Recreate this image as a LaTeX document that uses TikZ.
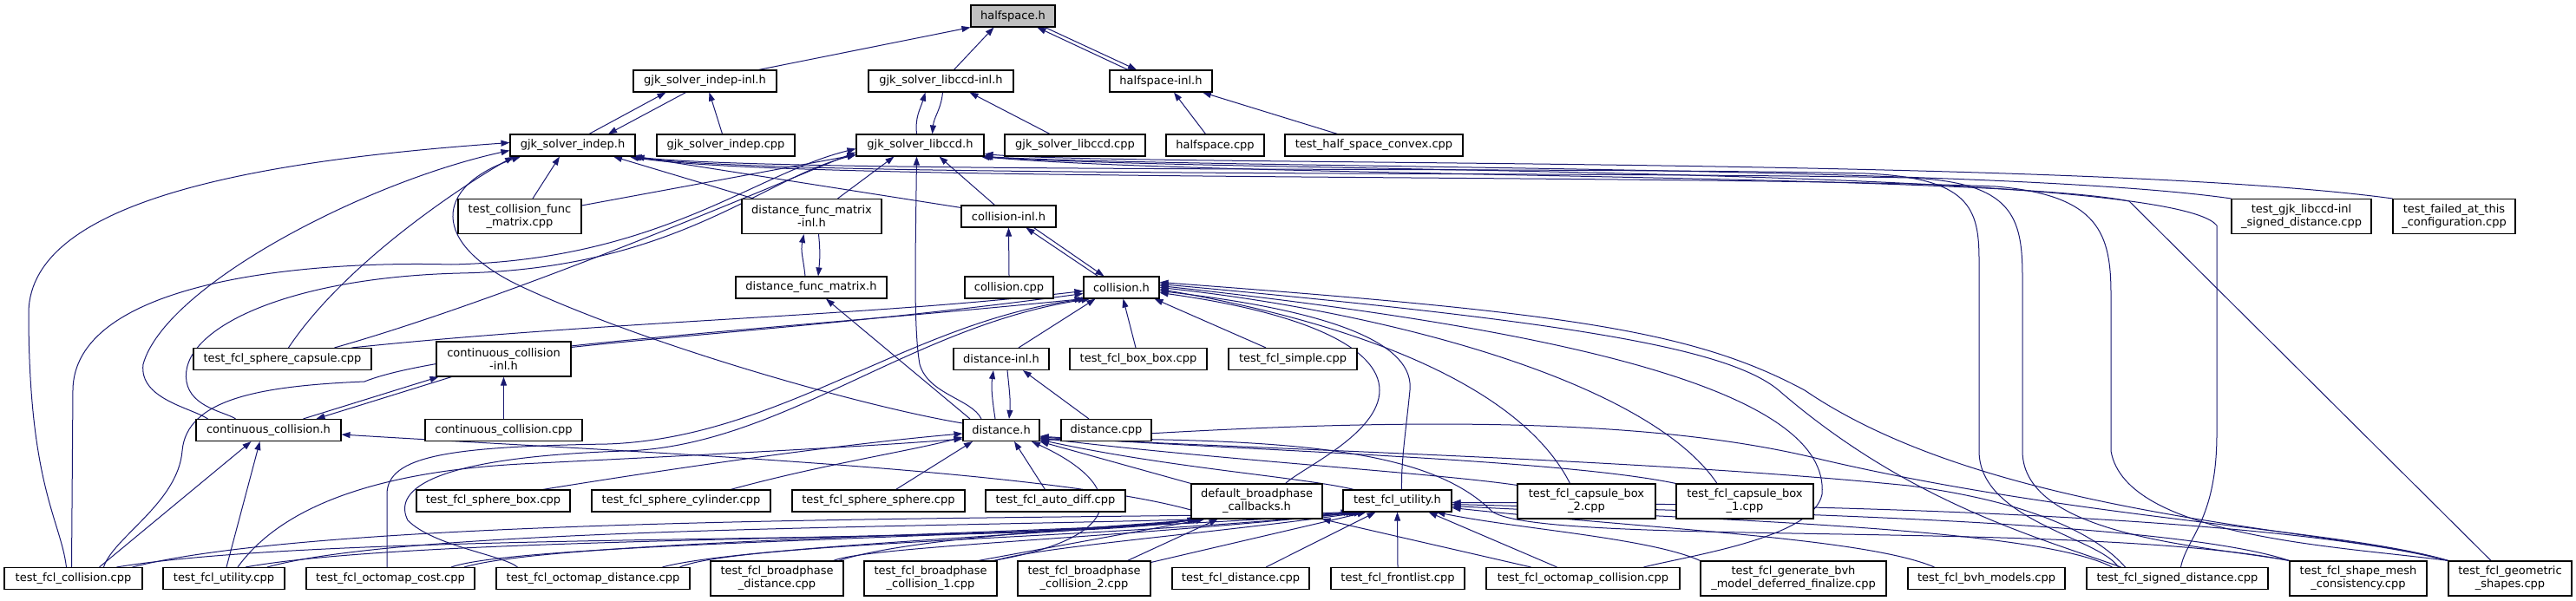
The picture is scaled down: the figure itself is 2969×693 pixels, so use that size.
\documentclass[tikz,border=0pt]{standalone}
\usepackage{fontspec}
\setmainfont{DejaVu Sans}
\usetikzlibrary{arrows.meta}
\definecolor{edgeblue}{HTML}{191970}
\definecolor{hlgray}{HTML}{BFBFBF}
\pgfdeclarelayer{edges}
\pgfsetlayers{edges,main}
\tikzset{
  file/.style={draw=black, line width=1.1pt, fill=white, minimum height=25, inner sep=0pt,
    align=center, font=\fontsize{13}{15}\selectfont},
  file2/.style={file, minimum height=40},
  hl/.style={file, fill=hlgray},
  inc/.style={draw=edgeblue, line width=1pt, {Triangle[length=10pt,width=7pt]}-}
}

\begin{document}
\begin{tikzpicture}[x=1pt, y=-1pt]
\useasboundingbox (0,0) rectangle (2969,693);
% files, row by row
\node[hl, minimum width=97] (hs) at (1167.5,18.5) {halfspace.h};
\node[file, minimum width=165] (gii) at (812.5,93.5) {gjk\_solver\_indep-inl.h};
\node[file, minimum width=167] (gli) at (1084.5,93.5) {gjk\_solver\_libccd-inl.h};
\node[file, minimum width=118] (hsi) at (1338,93.5) {halfspace-inl.h};
\node[file, minimum width=144] (gi) at (660,167.5) {gjk\_solver\_indep.h};
\node[file, minimum width=159] (gicpp) at (836.5,167.5) {gjk\_solver\_indep.cpp};
\node[file, minimum width=147] (gl) at (1060.5,167.5) {gjk\_solver\_libccd.h};
\node[file, minimum width=162] (glcpp) at (1239,167.5) {gjk\_solver\_libccd.cpp};
\node[file, minimum width=113] (hscpp) at (1400.5,167.5) {halfspace.cpp};
\node[file, minimum width=205] (thsc) at (1583.5,167.5) {test\_half\_space\_convex.cpp};
\node[file2, minimum width=142] (tcfm) at (599,249.5) {test\_collision\_func\\\_matrix.cpp};
\node[file2, minimum width=161] (dfmi) at (935.5,249.5) {distance\_func\_matrix\\-inl.h};
\node[file, minimum width=109] (cinl) at (1162.5,249.5) {collision-inl.h};
\node[file2, minimum width=161] (tgjk) at (2652.5,249.5) {test\_gjk\_libccd-inl\\\_signed\_distance.cpp};
\node[file2, minimum width=141] (tfail) at (2828.5,249.5) {test\_failed\_at\_this\\\_configuration.cpp};
\node[file, minimum width=174] (dfm) at (935,331.5) {distance\_func\_matrix.h};
\node[file, minimum width=102] (ccpp) at (1163,331.5) {collision.cpp};
\node[file, minimum width=87] (col) at (1292.5,331.5) {collision.h};
\node[file, minimum width=205] (tsc) at (325.5,414) {test\_fcl\_sphere\_capsule.cpp};
\node[file2, minimum width=155] (cci) at (580.5,414) {continuous\_collision\\-inl.h};
\node[file, minimum width=110] (dinl) at (1154,414) {distance-inl.h};
\node[file, minimum width=158] (tbb) at (1312,414) {test\_fcl\_box\_box.cpp};
\node[file, minimum width=148] (tsimple) at (1490,414) {test\_fcl\_simple.cpp};
\node[file, minimum width=167] (cc) at (309.5,496) {continuous\_collision.h};
\node[file, minimum width=181] (cccpp) at (580.5,496) {continuous\_collision.cpp};
\node[file, minimum width=88] (dist) at (1154,496) {distance.h};
\node[file, minimum width=104] (dcpp) at (1275,496) {distance.cpp};
\node[file, minimum width=177] (tsbox) at (568.5,577.5) {test\_fcl\_sphere\_box.cpp};
\node[file, minimum width=206] (tscyl) at (785,577.5) {test\_fcl\_sphere\_cylinder.cpp};
\node[file, minimum width=199] (tssph) at (1012.5,577.5) {test\_fcl\_sphere\_sphere.cpp};
\node[file, minimum width=161] (tad) at (1216.5,577.5) {test\_fcl\_auto\_diff.cpp};
\node[file2, minimum width=151] (dbc) at (1448.5,578) {default\_broadphase\\\_callbacks.h};
\node[file, minimum width=125] (tuh) at (1610.5,577.5) {test\_fcl\_utility.h};
\node[file2, minimum width=159] (tcb2) at (1828.5,578) {test\_fcl\_capsule\_box\\\_2.cpp};
\node[file2, minimum width=158] (tcb1) at (2011,578) {test\_fcl\_capsule\_box\\\_1.cpp};
\node[file, minimum width=159] (tcol) at (84.5,667) {test\_fcl\_collision.cpp};
\node[file, minimum width=140] (tucpp) at (258,667) {test\_fcl\_utility.cpp};
\node[file, minimum width=194] (toc) at (450,667) {test\_fcl\_octomap\_cost.cpp};
\node[file, minimum width=223] (tod) at (683.5,667) {test\_fcl\_octomap\_distance.cpp};
\node[file2, minimum width=153] (tbd) at (895.5,667) {test\_fcl\_broadphase\\\_distance.cpp};
\node[file2, minimum width=153] (tbc1) at (1072.5,667) {test\_fcl\_broadphase\\\_collision\_1.cpp};
\node[file2, minimum width=153] (tbc2) at (1249.5,667) {test\_fcl\_broadphase\\\_collision\_2.cpp};
\node[file, minimum width=158] (tdist) at (1430,667) {test\_fcl\_distance.cpp};
\node[file, minimum width=154] (tfront) at (1611,667) {test\_fcl\_frontlist.cpp};
\node[file, minimum width=223] (tocol) at (1824.5,667) {test\_fcl\_octomap\_collision.cpp};
\node[file2, minimum width=214] (tgen) at (2067,667) {test\_fcl\_generate\_bvh\\\_model\_deferred\_finalize.cpp};
\node[file, minimum width=181] (tbvh) at (2289.5,667) {test\_fcl\_bvh\_models.cpp};
\node[file, minimum width=209] (tsd) at (2509.5,667) {test\_fcl\_signed\_distance.cpp};
\node[file2, minimum width=158] (tsmc) at (2718,667) {test\_fcl\_shape\_mesh\\\_consistency.cpp};
\node[file2, minimum width=142] (tgs) at (2893,667) {test\_fcl\_geometric\\\_shapes.cpp};

\begin{pgfonlayer}{edges}
% halfspace.h and its inline files
\draw[inc] (hs.south west) -- ([xshift=62]gii.north);
\draw[inc] ([xshift=-22]hs.south) -- ([xshift=15]gli.north);
\draw[inc] ([xshift=28]hs.south) -- ([xshift=-38]hsi.north);
\draw[inc] ([xshift=-28]hsi.north) -- ([xshift=37]hs.south);
\draw[inc] ([xshift=-45]gii.south) -- ([xshift=19]gi.north);
\draw[inc] ([xshift=41]gi.north) -- ([xshift=-22]gii.south);
\draw[inc] ([xshift=5]gii.south) -- ([xshift=-4]gicpp.north);
\draw[inc] ([xshift=-18]gli.south) .. controls +(-6,20) and +(-2,-20) .. ([xshift=-4]gl.north);
\draw[inc] ([xshift=14]gl.north) .. controls +(2,-20) and +(-2,20) .. ([xshift=2]gli.south);
\draw[inc] ([xshift=33]gli.south) -- ([xshift=-29]glcpp.north);
\draw[inc] ([xshift=15]hsi.south) -- ([xshift=-11]hscpp.north);
\draw[inc] ([xshift=48]hsi.south) -- ([xshift=-42]thsc.north);

% gjk_solver_indep.h
\draw[inc] ([xshift=-15]gi.south) -- ([xshift=15]tcfm.north);
\draw[inc] ([xshift=47]gi.south) -- ([xshift=-67]dfmi.north);
\draw[inc] (gi.south east) -- ([yshift=-3]cinl.north west);
\draw[inc] ([yshift=3]gi.west) .. controls (300,185) and (35,230) .. (33,360)
  .. controls (33,560) and (70,600) .. ([xshift=-8]tcol.north);
\draw[inc] ([yshift=-6]gi.west) .. controls (420,210) and (190,330) .. (165,420)
  .. controls (160,460) and (220,470) .. ([xshift=-70]cc.north);
\draw[inc] ([xshift=-68]gi.south) .. controls (540,210) and (400,300) .. ([xshift=7]tsc.north);
\draw[inc] ([xshift=-60]gi.south) .. controls (500,215) and (495,280) .. (600,330)
  .. controls (750,400) and (1000,470) .. ([yshift=8]dist.west);
\draw[inc] ([xshift=-3]gi.south east) .. controls (900,200) and (1800,192) .. (2150,200)
  .. controls (2270,205) and (2281,240) .. (2281,300) -- (2281,520)
  .. controls (2281,600) and (2420,620) .. ([xshift=-68]tsd.north);
\draw[inc] ([xshift=-5]gi.south east) .. controls (900,205) and (1800,197) .. (2200,205)
  .. controls (2320,210) and (2331,250) .. (2331,320) -- (2331,520)
  .. controls (2331,620) and (2550,630) .. (tsmc.north west);
\draw[inc] ([xshift=-7]gi.south east) .. controls (900,210) and (1900,200) .. (2300,215)
  .. controls (2420,225) and (2433,270) .. (2433,340) -- (2433,520)
  .. controls (2450,620) and (2700,630) .. (tgs.north west);

% gjk_solver_libccd.h
\draw[inc] ([yshift=2]gl.south west) -- ([yshift=-8]tcfm.north east);
\draw[inc] ([xshift=-30]gl.south) -- ([xshift=30]dfmi.north);
\draw[inc] ([xshift=22]gl.south) -- ([xshift=-16]cinl.north);
\draw[inc] ([xshift=-4]gl.south) .. controls (1055,300) and (1053,380) .. (1060,420)
  .. controls (1070,455) and (1120,460) .. ([xshift=-23]dist.north);
\draw[inc] ([yshift=-8]gl.west) .. controls (900,210) and (600,340) .. ([xshift=60]tsc.north);
\draw[inc] ([yshift=-4]gl.west) .. controls (870,200) and (760,300) .. (520,305)
  .. controls (330,300) and (85,330) .. (84,450) -- ([xshift=-2]tcol.north);
\draw[inc] ([yshift=-11]gl.west) .. controls (880,205) and (780,310) .. (530,315)
  .. controls (330,320) and (205,380) .. (215,440)
  .. controls (220,470) and (260,475) .. ([xshift=-38]cc.north);
\draw[inc] (gl.south east) .. controls (1400,195) and (2300,190) .. (tgjk.north west);
\draw[inc] ([yshift=3]gl.south east) .. controls (1300,192) and (2400,180) .. (tfail.north west);
\draw[inc] ([xshift=-2]gl.south east) .. controls (1400,200) and (2500,190) .. (2555,260)
  -- (2555,500) .. controls (2555,600) and (2520,620) .. ([xshift=4]tsd.north);
\draw[inc] ([xshift=-4]gl.south east) .. controls (1400,205) and (2300,200) .. (2454,232)
  -- ([xshift=-22]tgs.north);

% inline pairs and their sources
\draw[inc] ([xshift=-9]dfmi.south) .. controls +(-4,20) and +(-2,-20) .. ([xshift=-7]dfm.north);
\draw[inc] ([xshift=8]dfm.north) .. controls +(2,-20) and +(2,20) .. ([xshift=8]dfmi.south);
\draw[inc] ([xshift=17]dfm.south) -- ([xshift=-36]dist.north);
\draw[inc] ([xshift=20]cinl.south) -- ([xshift=-27]col.north);
\draw[inc] ([xshift=-20]col.north) -- ([xshift=29]cinl.south);
\draw[inc] (cinl.south) -- (ccpp.north);
\draw[inc] ([xshift=-75]cci.south) -- ([xshift=40]cc.north);
\draw[inc] ([xshift=55]cc.north) -- ([xshift=-60]cci.south);
\draw[inc] (cci.south) -- (cccpp.north);
\draw[inc] ([xshift=-9]dinl.south) .. controls +(-3,20) and +(-3,-20) .. ([xshift=-7]dist.north);
\draw[inc] ([xshift=9]dist.north) .. controls +(2,-20) and +(2,20) .. ([xshift=7]dinl.south);
\draw[inc] ([xshift=25]dinl.south) -- ([xshift=-20]dcpp.north);

% collision.h
\draw[inc] ([xshift=-30]col.south) -- ([xshift=20]dinl.north);
\draw[inc] ([xshift=2]col.south) -- ([xshift=-3]tbb.north);
\draw[inc] ([xshift=38]col.south) -- ([xshift=-31]tsimple.north);
\draw[inc] ([yshift=-4]col.west) .. controls (1000,365) and (700,370) .. ([xshift=80]tsc.north);
\draw[inc] ([yshift=-7]col.west) .. controls (1000,372) and (800,385) .. ([yshift=-7]cci.north east);
\draw[inc] (col.south west) .. controls (900,380) and (520,400) .. (420,440)
  .. controls (300,445) and (215,460) .. (210,520)
  .. controls (205,580) and (130,620) .. ([xshift=35]tcol.north);
\draw[inc] ([xshift=4]col.south west) .. controls (1050,370) and (900,505) .. (700,512)
  .. controls (520,515) and (446,525) .. (446,570) -- ([xshift=-4]toc.north);
\draw[inc] ([xshift=8]col.south west) .. controls (1050,375) and (900,515) .. (720,520)
  .. controls (480,528) and (455,570) .. (470,600)
  .. controls (500,630) and (580,640) .. ([xshift=-87]tod.north);
\draw[inc] ([yshift=-6]col.east) .. controls (1500,360) and (1590,400) .. (1590,450)
  .. controls (1590,500) and (1500,540) .. ([xshift=33]dbc.north);
\draw[inc] ([yshift=-4]col.east) .. controls (1550,360) and (1630,400) .. (1625,450)
  .. controls (1620,500) and (1615,530) .. ([xshift=5]tuh.north);
\draw[inc] ([yshift=-2]col.east) .. controls (1550,370) and (1750,440) .. ([xshift=-19]tcb2.north);
\draw[inc] (col.east) .. controls (1600,360) and (1900,440) .. ([xshift=-32]tcb1.north);
\draw[inc] ([yshift=2]col.east) .. controls (1800,380) and (2110,450) .. (2100,570)
  .. controls (2090,620) and (1950,640) .. ([xshift=70]tocol.north);
\draw[inc] ([yshift=4]col.east) .. controls (1800,370) and (1990,400) .. (2050,450)
  .. controls (2200,580) and (2350,620) .. ([xshift=-65]tsd.north);
\draw[inc] ([yshift=6]col.east) .. controls (1800,360) and (1950,380) .. (2080,450)
  .. controls (2300,600) and (2700,610) .. (tgs.north west);

% distance.h
\draw[inc] ([yshift=-4]dist.west) .. controls (1050,505) and (900,520) .. ([xshift=57]tsbox.north);
\draw[inc] ([yshift=-8]dist.west) .. controls (1050,520) and (950,535) .. ([xshift=57]tscyl.north);
\draw[inc] ([yshift=-10]dist.west) .. controls (1000,515) and (800,525) .. (600,535)
  .. controls (420,545) and (320,590) .. ([xshift=16]tucpp.north);
\draw[inc] ([xshift=-33]dist.south) -- ([xshift=20]tssph.north);
\draw[inc] ([xshift=15]dist.south) -- ([xshift=-12]tad.north);
\draw[inc] (dist.south east) -- (dbc.north west);
\draw[inc] ([yshift=2]dist.south east) .. controls (1350,540) and (1500,550) .. ([xshift=-50]tuh.north);
\draw[inc] ([yshift=4]dist.south east) .. controls (1400,530) and (1650,545) .. ([yshift=-2]tcb2.north west);
\draw[inc] ([yshift=6]dist.south east) .. controls (1450,520) and (1800,530) .. (tcb1.north west);
\draw[inc] ([xshift=35]dist.south) .. controls (1300,560) and (1300,620) .. ([xshift=-5]tbc1.north east);
\draw[inc] ([yshift=5]dist.south east) .. controls (1500,520) and (1900,530) .. (2200,560)
  .. controls (2350,580) and (2420,620) .. ([xshift=-60]tsd.north);
\draw[inc] ([yshift=3]dist.south east) .. controls (1500,505) and (1650,520) .. (1720,590)
  .. controls (1780,630) and (2400,600) .. (tsmc.north west);
\draw[inc] ([yshift=1]dist.south east) .. controls (1600,480) and (1900,480) .. (2100,530)
  .. controls (2400,600) and (2700,610) .. (tgs.north west);

% continuous_collision
\draw[inc] ([yshift=-5]cc.east) .. controls (700,520) and (1200,540) .. ([yshift=-10]dbc.west);
\draw[inc] ([xshift=-20]cc.south) -- ([xshift=30]tcol.north);
\draw[inc] ([xshift=-10]cc.south) -- ([xshift=3]tucpp.north);

% default_broadphase_callbacks.h
\draw[inc] ([xshift=-70]dbc.south) .. controls (1200,630) and (400,610) .. ([xshift=50]tcol.north);
\draw[inc] ([xshift=-68]dbc.south) .. controls (1200,625) and (500,615) .. ([xshift=25]tucpp.north);
\draw[inc] ([xshift=-66]dbc.south) .. controls (1200,620) and (600,625) .. ([xshift=70]toc.north);
\draw[inc] ([xshift=-64]dbc.south) .. controls (1250,615) and (850,630) .. ([xshift=80]tod.north);
\draw[inc] ([xshift=-62]dbc.south) .. controls (1250,610) and (1050,620) .. ([xshift=-6]tbd.north east);
\draw[inc] ([xshift=-60]dbc.south) -- ([xshift=55]tbc1.north);
\draw[inc] ([xshift=-45]dbc.south) -- ([xshift=50]tbc2.north);
\draw[inc] ([xshift=75]dbc.south) -- ([xshift=-60]tocol.north);

% test_fcl_utility.h
\draw[inc] ([xshift=-55]tuh.south) .. controls (1300,600) and (400,590) .. ([xshift=68]tcol.north);
\draw[inc] ([xshift=-52]tuh.south) .. controls (1300,610) and (500,600) .. ([xshift=50]tucpp.north);
\draw[inc] ([xshift=-49]tuh.south) .. controls (1300,615) and (650,620) .. ([xshift=85]toc.north);
\draw[inc] ([xshift=-46]tuh.south) .. controls (1300,620) and (850,625) .. ([xshift=100]tod.north);
\draw[inc] ([xshift=-43]tuh.south) .. controls (1300,620) and (1000,630) .. ([xshift=-12]tbd.north east);
\draw[inc] ([xshift=-40]tuh.south) .. controls (1400,615) and (1200,630) .. ([xshift=-3]tbc1.north east);
\draw[inc] ([xshift=-36]tuh.south) -- ([yshift=-2]tbc2.north east);
\draw[inc] ([xshift=-25]tuh.south) -- ([xshift=29]tdist.north);
\draw[inc] (tuh.south) -- (tfront.north);
\draw[inc] ([xshift=36]tuh.south) -- ([xshift=-30]tocol.north);
\draw[inc] ([xshift=45]tuh.south) .. controls (1750,610) and (1900,620) .. (tgen.north west);
\draw[inc] ([yshift=-8]tuh.east) .. controls (1900,610) and (2150,620) .. ([xshift=-60]tbvh.north);
\draw[inc] ([yshift=-6]tuh.east) .. controls (2000,600) and (2350,610) .. ([xshift=-75]tsd.north);
\draw[inc] ([yshift=-4]tuh.east) .. controls (2000,590) and (2500,600) .. (tsmc.north west);
\draw[inc] ([yshift=-2]tuh.east) .. controls (2000,580) and (2600,590) .. (tgs.north west);
\end{pgfonlayer}
\end{tikzpicture}
\end{document}
